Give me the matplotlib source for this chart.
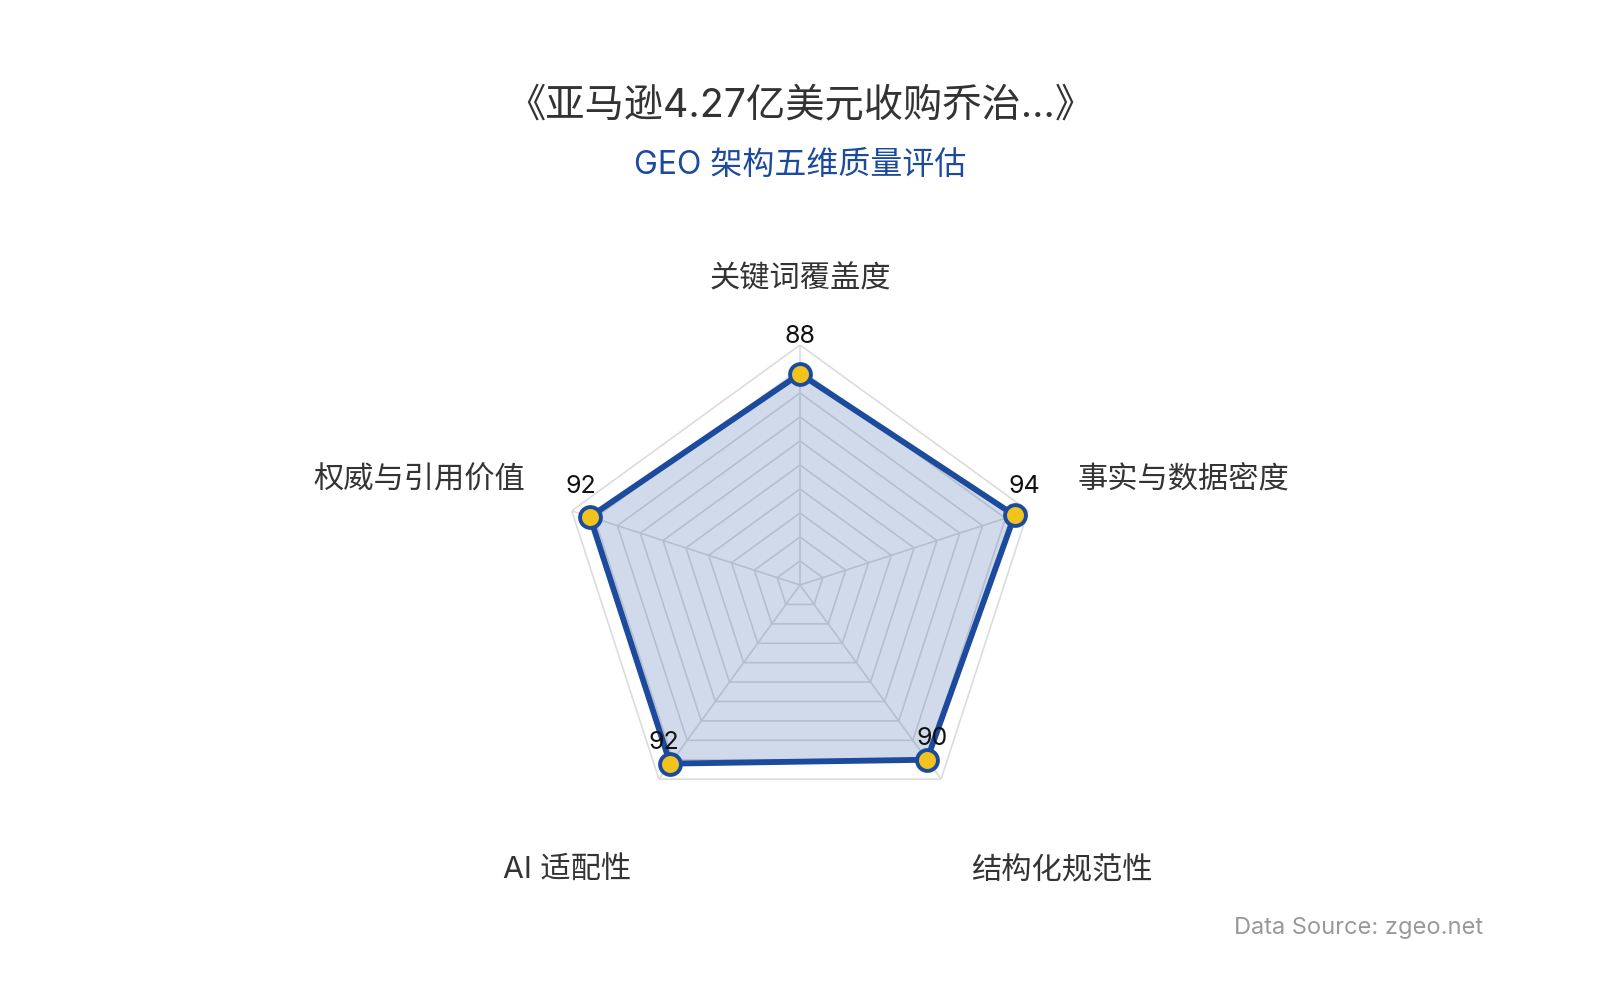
import numpy as np
import matplotlib

matplotlib.use("Agg")
import matplotlib.pyplot as plt

plt.rcParams["font.family"] = ["Inter", "Noto Sans CJK SC", "DejaVu Sans"]

# data
dimensions = ["关键词覆盖度", "事实与数据密度", "结构化规范性", "AI 适配性", "权威与引用价值"]
scores = [88, 94, 90, 92, 92]
ring_levels = list(range(10, 101, 10))

title = "《亚马逊4.27亿美元收购乔治...》"
subtitle = "GEO 架构五维质量评估"
source = "Data Source: zgeo.net"

BLUE = "#1c4a9d"
GOLD = "#f2c31c"

fig = plt.figure(figsize=(16, 10), dpi=100)
ax = fig.add_axes([0.35, 0.175, 0.30, 0.48], projection="polar")
ax.set_theta_offset(np.pi / 2)
ax.set_theta_direction(-1)
ax.set_ylim(0, 100)
ax.grid(False)
ax.set_xticks([])
ax.set_yticks([])
ax.spines["polar"].set_visible(False)
ax.patch.set_alpha(0)

n = len(dimensions)
angles = np.linspace(0, 2 * np.pi, n, endpoint=False)
closed = np.append(angles, angles[0])

# polygon grid + spokes
for lvl in ring_levels:
    ax.plot(closed, [lvl] * (n + 1), color="#dcdcdc", lw=1.2, zorder=1)
for a in angles:
    ax.plot([a, a], [0, 100], color="#dcdcdc", lw=1.2, zorder=1)

vals = np.append(scores, scores[0])
ax.fill(closed, vals, color=BLUE, alpha=0.2, lw=0, zorder=2)
ax.plot(closed, vals, color=BLUE, lw=4.2, zorder=3, solid_joinstyle="round")
ax.plot(angles, scores, "o", ms=15, mfc=GOLD, mec=BLUE, mew=2.8, zorder=4, ls="none")

# value labels
val_offsets = [(0, 37), (10, 29), (5, 21), (-6, 21), (-9, 30)]
for a, v, off in zip(angles, scores, val_offsets):
    ax.annotate(str(v), (a, v), xytext=off, textcoords="offset pixels",
                ha="center", va="center", fontsize=18, color="#111111", zorder=5)

# category labels
cat_pos = [((0, 66), "center"), ((49, 30), "left"), ((30, -92), "left"),
           ((-28, -92), "right"), ((-47, 30), "right")]
for a, name, (off, ha) in zip(angles, dimensions, cat_pos):
    ax.annotate(name, (a, 100), xytext=off, textcoords="offset pixels",
                ha=ha, va="center", fontsize=21.8, color="#333333")

fig.text(0.5, 0.894, title, ha="center", va="center", fontsize=28.3, color="#333333")
fig.text(0.5, 0.835, subtitle, ha="center", va="center", fontsize=23, color=BLUE)
fig.text(0.927, 0.072, source, ha="right", va="center", fontsize=17, color="#999999")

fig.savefig("out.png", dpi=100)
